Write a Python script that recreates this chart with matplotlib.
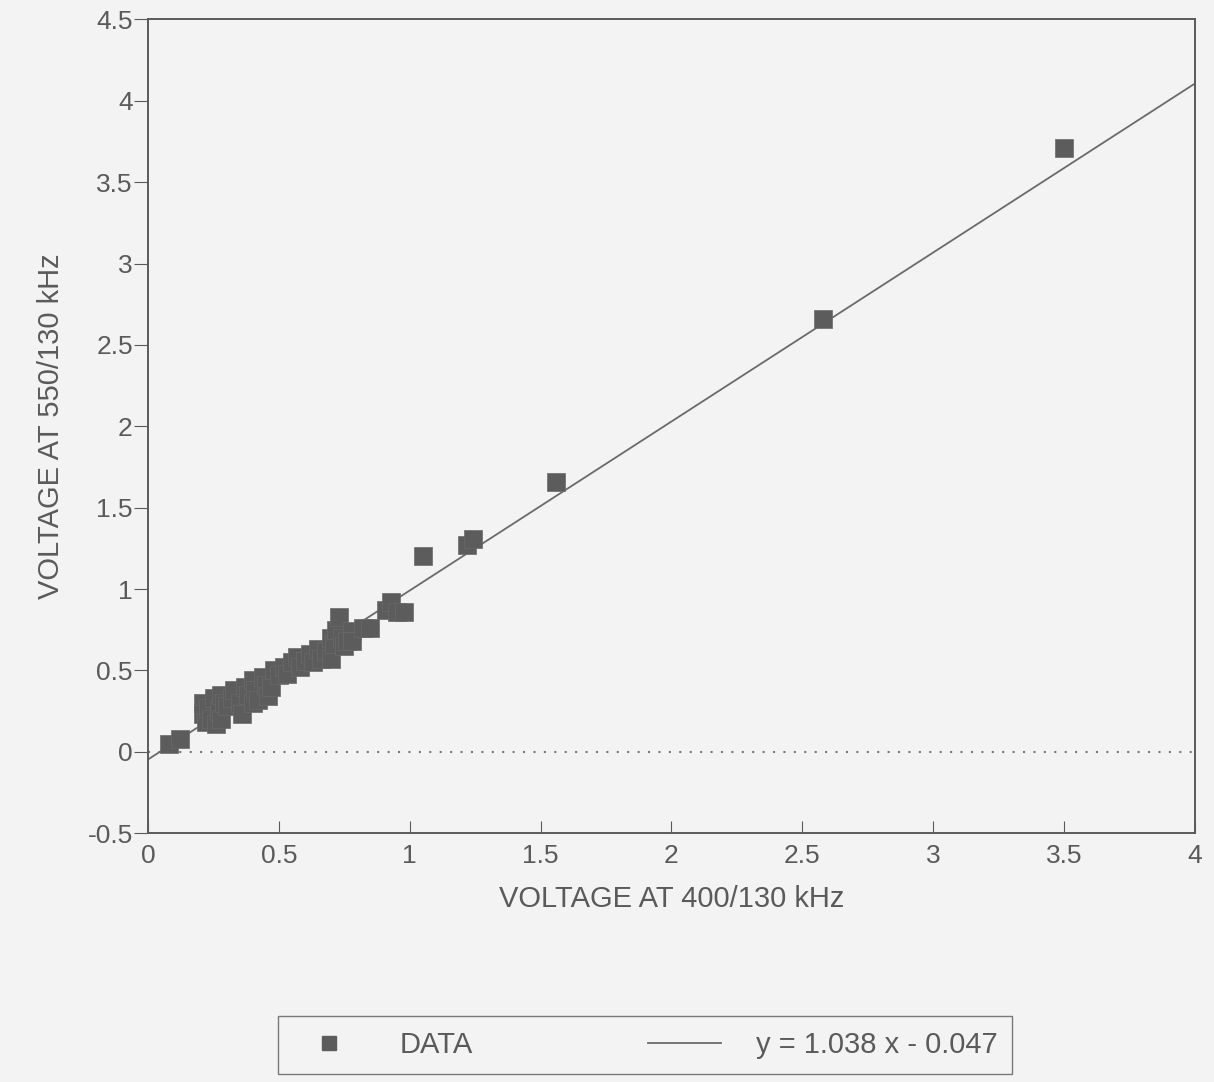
import matplotlib.pyplot as plt
import numpy as np

plt.rcParams['font.family'] = ['Liberation Sans', 'DejaVu Sans']

v400 = [0.08, 0.12,
        0.21, 0.21, 0.22, 0.23, 0.24, 0.25, 0.26, 0.27, 0.28, 0.28, 0.29, 0.30,
        0.32, 0.33, 0.35, 0.36, 0.37, 0.38, 0.40, 0.40, 0.41, 0.42, 0.44, 0.45,
        0.46, 0.47, 0.48, 0.50, 0.52, 0.53, 0.55, 0.57, 0.58, 0.60, 0.62, 0.63,
        0.65, 0.66, 0.68, 0.70, 0.70, 0.71, 0.72, 0.73, 0.74, 0.75, 0.76, 0.78,
        0.78, 0.82, 0.85, 0.91, 0.93, 0.95, 0.98,
        1.05, 1.22, 1.24, 1.56, 2.58, 3.50]
v550 = [0.05, 0.08,
        0.30, 0.23, 0.18, 0.27, 0.20, 0.33, 0.17, 0.25, 0.35, 0.20, 0.30, 0.28,
        0.33, 0.38, 0.30, 0.23, 0.40, 0.35, 0.44, 0.30, 0.38, 0.32, 0.46, 0.41,
        0.34, 0.40, 0.50, 0.47, 0.52, 0.48, 0.55, 0.58, 0.52, 0.56, 0.60, 0.55,
        0.63, 0.57, 0.62, 0.57, 0.70, 0.66, 0.75, 0.83, 0.70, 0.65, 0.68, 0.74,
        0.68, 0.76, 0.76, 0.87, 0.92, 0.86, 0.86,
        1.20, 1.27, 1.31, 1.66, 2.66, 3.71]

slope = 1.038
intercept = -0.047

xticks = [0, 0.5, 1, 1.5, 2, 2.5, 3, 3.5, 4]
yticks = [-0.5, 0, 0.5, 1, 1.5, 2, 2.5, 3, 3.5, 4, 4.5]

grey = '#5a5a5a'
fig = plt.figure(figsize=(12.14, 10.82), dpi=100, facecolor='#f3f3f3')
ax = fig.add_axes([0.122, 0.230, 0.862, 0.752], facecolor='#f3f3f3')

# fit line and zero reference
xl = np.array([0, 4])
ax.plot(xl, slope * xl + intercept, color='#6a6a6a', lw=1.3, zorder=2)
ax.axhline(0, color='#777777', lw=1.5, ls=(0, (1, 4)), zorder=1)

ax.scatter(v400, v550, marker='s', s=175, color='#5c5c5c', edgecolors='#6a6a6a',
           linewidths=0.5, zorder=3)

ax.set_xlim(0, 4)
ax.set_ylim(-0.5, 4.5)
ax.set_xticks(xticks)
ax.set_yticks(yticks)
ax.set_xticklabels(['0', '0.5', '1', '1.5', '2', '2.5', '3', '3.5', '4'])
ax.set_yticklabels(['-0.5', '0', '0.5', '1', '1.5', '2', '2.5', '3', '3.5', '4', '4.5'])
ax.tick_params(axis='y', direction='out', length=10, color=grey, labelsize=19,
               labelcolor=grey, pad=1)
ax.tick_params(axis='x', direction='in', length=9, color=grey, labelsize=19,
               labelcolor=grey, pad=8)
for sp in ax.spines.values():
    sp.set_color(grey)
    sp.set_linewidth(1.4)

ax.set_xlabel('VOLTAGE AT 400/130 kHz', fontsize=21, color=grey, labelpad=12)
ax.set_ylabel('VOLTAGE AT 550/130 kHz', fontsize=21, color=grey, labelpad=16)

# legend box at the bottom
h1 = plt.Line2D([], [], marker='s', ls='none', color='#5c5c5c', markersize=10)
h2 = plt.Line2D([], [], color='#6a6a6a', lw=1.3)
fig.legend([h1, h2], ['DATA', 'y = 1.038 x - 0.047'], ncol=2,
           loc='center', bbox_to_anchor=(263 / 1214, 4 / 1082, 764 / 1214, 66 / 1082),
           mode='expand', fontsize=21, frameon=True, fancybox=False,
           edgecolor=grey, facecolor='#f3f3f3', labelcolor=grey,
           handlelength=2.5, borderpad=0.5, handletextpad=1.2)

fig.savefig('out.png', dpi=100, facecolor=fig.get_facecolor())
